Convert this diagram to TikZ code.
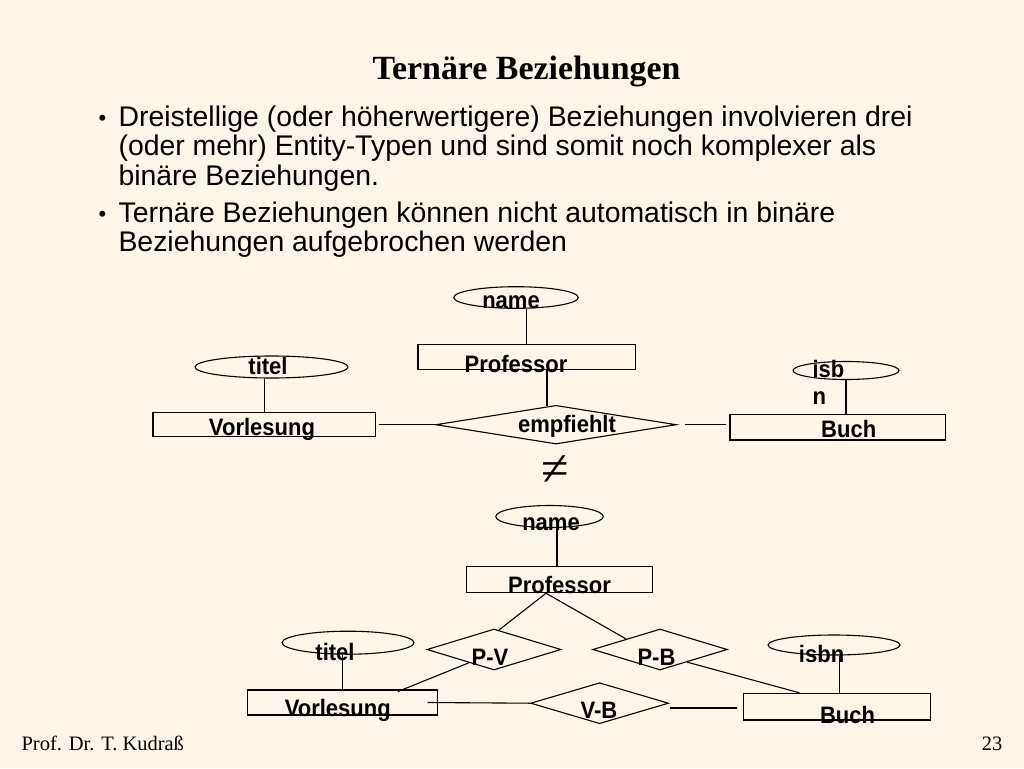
\documentclass[tikz,border=0pt]{standalone}
\usepackage{fontspec}
\setmainfont{Liberation Serif}
\newfontfamily\lsans{Liberation Sans}
\newfontfamily\lsansn{Liberation Sans}[FakeStretch=0.925]
\usetikzlibrary{shapes.geometric,calc}
\definecolor{bg}{RGB}{253,245,232}
\begin{document}
\begin{tikzpicture}[x=1pt,y=-1pt,line width=1.1pt,
  ent/.style 2 args={draw,rectangle,inner sep=0pt,minimum width=#1,minimum height=#2},
  att/.style 2 args={draw,ellipse,inner sep=0pt,minimum width=#1,minimum height=#2},
  rel/.style 2 args={draw,diamond,inner sep=0pt,minimum width=#1,minimum height=#2},
  lbl/.style={font=\lsansn\bfseries\fontsize{23.8}{23.8}\selectfont,inner sep=0pt,anchor=base},
  body/.style={font=\lsans\fontsize{28.4}{28.4}\selectfont,inner sep=0pt,anchor=base west},
  bul/.style={font=\lsans\fontsize{22}{22}\selectfont,inner sep=0pt,anchor=base west},
  foot/.style={font=\fontsize{20.5}{20.5}\selectfont,inner sep=0pt}]
\fill[bg] (0,0) rectangle (1024,768);
\useasboundingbox (0,0) rectangle (1024,768);

% title and bullets
\node[font=\bfseries\fontsize{33.9}{33.9}\selectfont,inner sep=0pt,anchor=base] (title) at (526.5,79) {Ternäre Beziehungen};
\node[bul] (b1) at (98,125) {•};
\node[body] (l1) at (118,126) {Dreistellige (oder höherwertigere) Beziehungen involvieren drei};
\node[body] (l2) at (118,155) {(oder mehr) Entity-Typen und sind somit noch komplexer als};
\node[body] (l3) at (118,185) {binäre Beziehungen.};
\node[bul] (b2) at (98,221) {•};
\node[body] (l4) at (118,222) {Ternäre Beziehungen können nicht automatisch in binäre};
\node[body] (l5) at (118,251) {Beziehungen aufgebrochen werden};

% ---------- top diagram ----------
\node[att={124.5pt}{21.6pt}] (nameA) at (516,297.5) {};
\node[ent={217.3pt}{25pt}] (profA) at (526.65,356.8) {};
\node[rel={240.5pt}{38.7pt}] (empfA) at (556,424.7) {};
\node[att={153pt}{22pt}] (titelA) at (271.5,367) {};
\node[ent={222.4pt}{24pt}] (vorlA) at (264.2,424.7) {};
\node[ent={215.4pt}{25.7pt}] (buchA) at (837.7,427.15) {};
\node[att={106pt}{18pt}] (isbA) at (846,370.5) {};

\draw (nameA.south -| profA.north) -- (profA.north);
\draw ([xshift=-9pt]empfA.north |- profA.south) -- ([xshift=-9pt,yshift=-1.4pt]empfA.north);
\draw (titelA.south -| vorlA.north) -- (vorlA.north);
\draw ([xshift=3pt]vorlA.east) -- (empfA.west);
\draw ([xshift=8pt]empfA.east) -- ([xshift=-3pt]buchA.west |- empfA.east);
\draw (isbA.south) -- (isbA.south |- buchA.north);

\node[lbl] (tnameA) at (511,308) {name};
\node[lbl] (tprofA) at (516,372) {Professor};
\node[lbl] (ttitelA) at (268,374) {titel};
\node[lbl] (tvorlA) at (262,435) {Vorlesung};
\node[lbl] (tempfA) at (567,432) {empfiehlt};
\node[lbl] (tbuchA) at (848.7,437) {Buch};
\node[lbl,anchor=base west] (tisbA) at (812,377) {isb};
\node[lbl,anchor=base west] (tnA) at (812,404) {n};

% not equal
\node[font=\fontsize{50}{50}\selectfont,inner sep=0pt] (neq) at (555,471) {≠};

% ---------- bottom diagram ----------
\node[att={107.5pt}{22pt}] (nameB) at (549.5,516.5) {};
\node[ent={185.9pt}{26pt}] (profB) at (559.45,579.7) {};
\node[rel={134pt}{41pt}] (pvB) at (494,649.5) {};
\node[rel={134.5pt}{41pt}] (pbB) at (660,649.5) {};
\node[att={132pt}{23pt}] (titelB) at (348,642.7) {};
\node[ent={190.1pt}{25pt}] (vorlB) at (342.45,702.5) {};
\node[rel={138pt}{41pt}] (vbB) at (599.6,703.2) {};
\node[ent={186.9pt}{26.7pt}] (buchB) at (836.75,706.65) {};
\node[att={132pt}{20pt}] (isbnB) at (834,645) {};

\draw ([xshift=7.5pt]nameB.south) -- ([xshift=7.5pt]nameB.south |- profB.north);
\draw ([xshift=-13.45pt]profB.south) -- ([xshift=5pt,yshift=-1.5pt]pvB.north);
\draw ([xshift=-13.45pt]profB.south) -- ($(pbB.west)!0.5!(pbB.north)$);
\draw ($(pvB.west)!0.63!(pvB.south)$) -- ([xshift=55.5pt,yshift=-2pt]vorlB.north);
\draw ($(pbB.south)!0.4!(pbB.east)$) -- ([xshift=-37.5pt]buchB.north);
\draw ([xshift=-10.5pt]vorlB.east) -- (vbB.west);
\draw ([xshift=1pt,yshift=-4.8pt]vbB.east) coordinate (vbR) -- ([xshift=-6pt]buchB.west |- vbR);
\draw (titelB.south -| vorlB.north) -- (vorlB.north);
\draw ([xshift=5.3pt]isbnB.south) -- ([xshift=5.3pt]isbnB.south |- buchB.north);

\node[lbl] (tnameB) at (551,530) {name};
\node[lbl] (tprofB) at (559.5,593) {Professor};
\node[lbl] (tpvB) at (490,665) {P-V};
\node[lbl] (tpbB) at (656.5,665) {P-B};
\node[lbl] (ttitelB) at (335,660) {titel};
\node[lbl] (tvorlB) at (337.8,716) {Vorlesung};
\node[lbl] (tvbB) at (599,718) {V-B};
\node[lbl] (tbuchB) at (847.6,723) {Buch};
\node[lbl] (tisbnB) at (821.6,662) {isbn};

% footer
\node[foot,anchor=base west] (f1) at (21,750) {Prof. Dr. T. Kudraß};
\node[foot,anchor=base east] (f2) at (1003,750) {23};
\end{tikzpicture}
\end{document}
